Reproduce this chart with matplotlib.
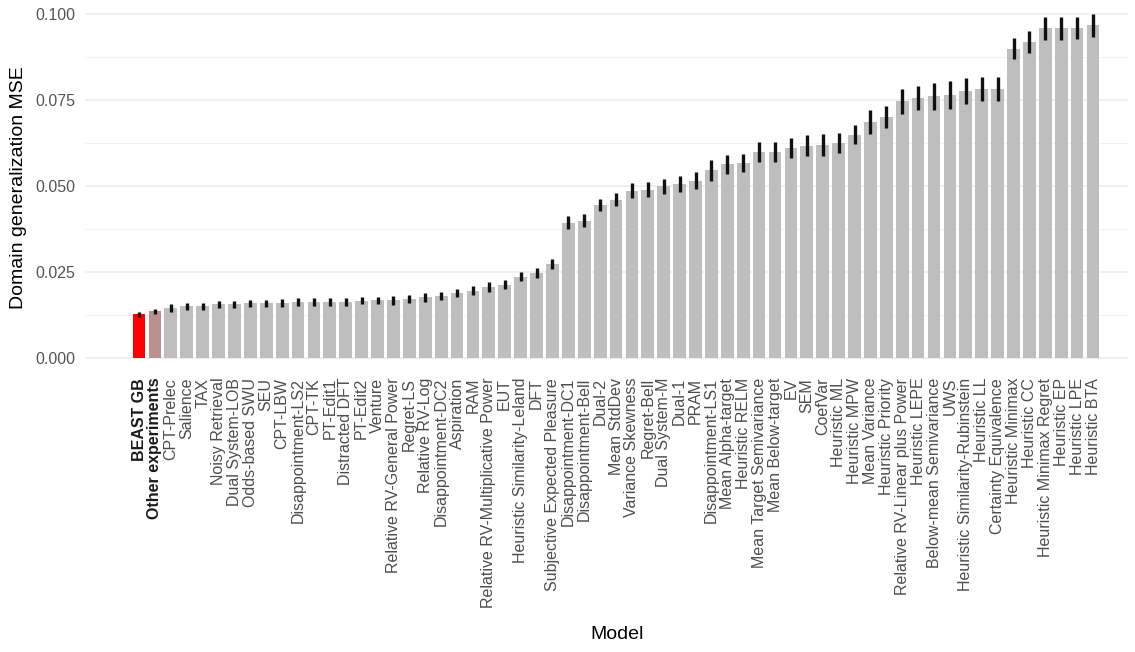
import matplotlib
matplotlib.use("Agg")
import matplotlib.pyplot as plt
import numpy as np

plt.rcParams["font.family"] = ["Liberation Sans", "DejaVu Sans"]

models = [
    "BEAST GB", "Other experiments", "CPT-Prelec", "Salience", "TAX",
    "Noisy Retrieval", "Dual System-LOB", "Odds-based SWU", "SEU", "CPT-LBW",
    "Disappointment-LS2", "CPT-TK", "PT-Edit1", "Distracted DFT", "PT-Edit2",
    "Venture", "Relative RV-General Power", "Regret-LS", "Relative RV-Log",
    "Disappointment-DC2", "Aspiration", "RAM", "Relative RV-Multiplicative Power",
    "EUT", "Heuristic Similarity-Leland", "DFT", "Subjective Expected Pleasure",
    "Disappointment-DC1", "Disappointment-Bell", "Dual-2", "Mean StdDev",
    "Variance Skewness", "Regret-Bell", "Dual System-M", "Dual-1", "PRAM",
    "Disappointment-LS1", "Mean Alpha-target", "Heuristic RELM",
    "Mean Target Semivariance", "Mean Below-target", "EV", "SEM", "CoefVar",
    "Heuristic ML", "Heuristic MPW", "Mean Variance", "Heuristic Priority",
    "Relative RV-Linear plus Power", "Heuristic LEPE", "Below-mean Semivariance",
    "UWS", "Heuristic Similarity-Rubinstein", "Heuristic LL",
    "Certainty Equivalence", "Heuristic Minimax", "Heuristic CC",
    "Heuristic Minimax Regret", "Heuristic EP", "Heuristic LPE", "Heuristic BTA",
]

mse = [
    0.0126, 0.0135, 0.0145, 0.0150, 0.0150, 0.0155, 0.0155, 0.0158, 0.0158, 0.0160,
    0.0163, 0.0163, 0.0163, 0.0163, 0.0166, 0.0167, 0.0167, 0.0171, 0.0176, 0.0180,
    0.0188, 0.0195, 0.0206, 0.0213, 0.0235, 0.0246, 0.0272, 0.0393, 0.0399, 0.0445,
    0.0459, 0.0486, 0.0489, 0.0498, 0.0505, 0.0515, 0.0545, 0.0562, 0.0566, 0.0598,
    0.0598, 0.0610, 0.0617, 0.0619, 0.0623, 0.0649, 0.0686, 0.0700, 0.0745, 0.0755,
    0.0760, 0.0764, 0.0776, 0.0782, 0.0782, 0.0899, 0.0918, 0.0958, 0.0958, 0.0958,
    0.0966,
]

# standard errors shown as whiskers
se = [
    0.0008, 0.0008, 0.0011, 0.0010, 0.0010, 0.0010, 0.0010, 0.0011, 0.0011, 0.0011,
    0.0011, 0.0011, 0.0011, 0.0011, 0.0011, 0.0011, 0.0013, 0.0012, 0.0013, 0.0012,
    0.0012, 0.0013, 0.0015, 0.0012, 0.0013, 0.0014, 0.0014, 0.0020, 0.0019, 0.0018,
    0.0019, 0.0022, 0.0021, 0.0023, 0.0022, 0.0024, 0.0030, 0.0027, 0.0026, 0.0029,
    0.0029, 0.0030, 0.0030, 0.0031, 0.0029, 0.0027, 0.0035, 0.0032, 0.0036, 0.0034,
    0.0040, 0.0040, 0.0038, 0.0035, 0.0035, 0.0031, 0.0033, 0.0034, 0.0034, 0.0032,
    0.0034,
]

highlight = {"BEAST GB": "#FF0000", "Other experiments": "#BC8F8F"}
colors = [highlight.get(m, "#BEBEBE") for m in models]

fig = plt.figure(figsize=(11.35, 6.52), dpi=100)
ax = fig.add_axes([85 / 1135, 1 - 375 / 652, 1043 / 1135, 375 / 652])

x = np.arange(len(models))
ax.bar(x, mse, width=0.8, color=colors, zorder=2)
ax.errorbar(x, mse, yerr=se, fmt="none", ecolor="#111111", elinewidth=2.4,
            capsize=0, zorder=3)

ax.set_xlim(-3.4, len(models) - 1 + 2.2)
ax.set_ylim(-0.005, 0.104)
ax.set_yticks([0.0, 0.025, 0.05, 0.075, 0.1])
ax.set_yticks(np.arange(0.0125, 0.1, 0.025), minor=True)
ax.yaxis.set_major_formatter(matplotlib.ticker.FormatStrFormatter("%.3f"))
ax.grid(axis="y", which="major", color="#EBEBEB", linewidth=1.1, zorder=0)
ax.grid(axis="y", which="minor", color="#F2F2F2", linewidth=0.8, zorder=0)
ax.tick_params(axis="y", which="both", length=0, labelsize=11.5,
               labelcolor="#555555", pad=7)

ax.set_xticks(x)
ax.set_xticklabels(models, rotation=90, fontsize=11.5, color="#4D4D4D",
                   ha="center", va="top")
ax.tick_params(axis="x", length=0, pad=2)
for lbl in ax.get_xticklabels()[:2]:
    lbl.set_fontweight("bold")
    lbl.set_color("#1a1a1a")

for side in ax.spines.values():
    side.set_visible(False)

ax.set_ylabel("Domain generalization MSE", fontsize=14, color="black", labelpad=6)
ax.set_xlabel("Model", fontsize=14, color="black")
ax.xaxis.set_label_coords(0.51, -0.67)

fig.savefig("out.png", dpi=100, facecolor="white")
